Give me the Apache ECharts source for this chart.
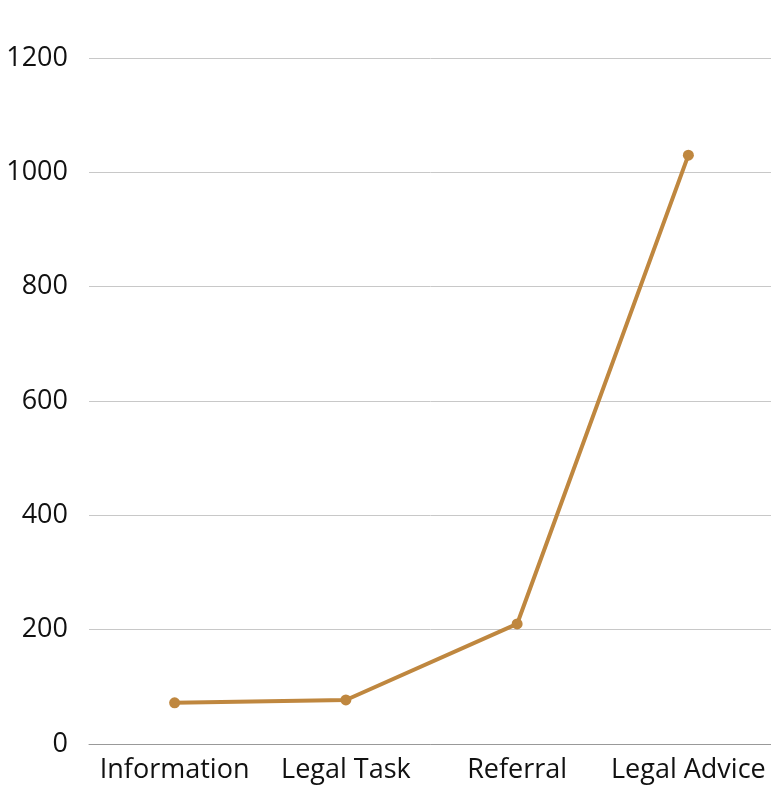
<!DOCTYPE html>
<html lang="en">
<head>
  <meta charset="UTF-8">
  <title>Chart</title>
  <style>
      html, body { margin: 0; padding: 0; background: #fff; }
      #chart { width: 771px; height: 789px; }
  </style>
</head>
<body>
<div id="chart"></div>
<script src="https://cdn.jsdelivr.net/npm/echarts@6/dist/echarts.min.js"></script>
<script>
  // data
  const categories = ['Information', 'Legal Task', 'Referral', 'Legal Advice'];
  const values = [72, 77, 210, 1030];

  const chart = echarts.init(document.getElementById('chart'));
  chart.setOption({
    animation: false,
    textStyle: { fontFamily: 'Open Sans' },
    grid: { left: 89, top: 58, bottom: 45, right: -3, outerBoundsMode: 'none' },
    xAxis: {
      type: 'category',
      data: categories,
      axisTick: { show: false },
      axisLine: { lineStyle: { color: '#999', width: 1 } },
      axisLabel: { color: '#111', fontSize: 27, margin: 13, interval: 0 }
    },
    yAxis: {
      type: 'value',
      min: 0,
      max: 1200,
      interval: 200,
      axisLine: { show: false },
      axisTick: { show: false },
      axisLabel: { color: '#111', fontSize: 27, margin: 21, padding: [4, 0, 0, 0], formatter: v => String(v) },
      splitLine: { lineStyle: { color: '#c8c8c8', width: 1 } }
    },
    series: [{
      type: 'line',
      data: values,
      symbol: 'circle',
      symbolSize: 11,
      lineStyle: { color: '#bf873f', width: 4 },
      itemStyle: { color: '#bf873f' }
    }]
  });
</script>
</body>
</html>
